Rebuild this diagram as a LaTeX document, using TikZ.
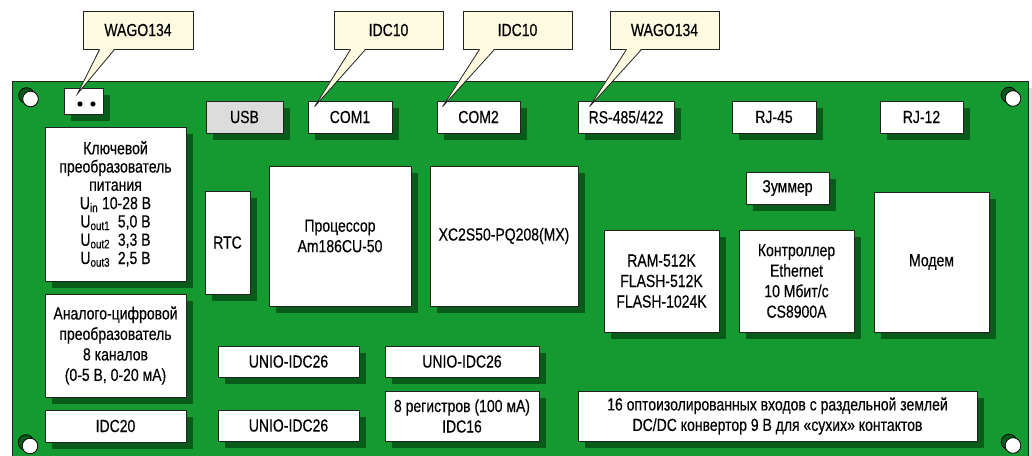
\documentclass[tikz,border=0pt]{standalone}
\usepackage{fontspec}
\setmainfont{Liberation Sans}[FakeStretch=0.80,FakeBold=0.35]
\usetikzlibrary{calc}
\definecolor{board}{RGB}{20,154,48}
\definecolor{pcbdark}{RGB}{8,92,26}
\definecolor{callfill}{RGB}{255,251,225}
\definecolor{usbgray}{RGB}{220,220,220}
\definecolor{edge}{RGB}{34,34,34}
\tikzset{
  pcbbox/.style={draw=edge, line width=0.8pt, fill=white, inner sep=0pt, align=center,
    font=\fontsize{17.5}{20.5}\selectfont},
  pcbshadow/.style={fill=pcbdark},
  callbox/.style={draw=edge, line width=0.8pt, fill=callfill, inner sep=0pt,
    font=\fontsize{17.5}{20.5}\selectfont},
  callline/.style={draw=edge, line width=0.8pt, line join=miter},
}
\newcommand\pcbnode[6][]{\path[pcbshadow] ({#2+6.5},{#3+6.5}) rectangle ({#4+6.5},{#5+6.5});
  \node[pcbbox,#1, minimum width={#4-#2}, minimum height={#5-#3}] (#6) at ({(#2+#4)/2},{(#3+#5)/2})}
\newcommand\callnode[5]{\node[callbox, minimum width={#4-#2}, minimum height={#5-#3}] (#1) at ({(#2+#4)/2},{(#3+#5)/2})}
\newcommand\calltip[2]{%
  \fill[callfill] ($(#1.south west)+(17,-1.2)$) -- (#2) -- ($(#1.south west)+(32,-1.2)$) -- cycle;
  \draw[callline] ($(#1.south west)+(17,0)$) -- (#2) -- ($(#1.south west)+(32,0)$);}
\begin{document}
\begin{tikzpicture}[x=1pt,y=-1pt]
\useasboundingbox (0,0) rectangle (1032,455);
\clip (0,0) rectangle (1032,455);
% board
\fill[black!15] (18,88) rectangle (1040,480);
\draw[fill=board, draw=edge, line width=0.8pt] (12,81.5) rectangle (1028,480);
% holes
\foreach \hx/\hy in {30.5/99, 1013/98.5, 30/446, 1013/445.5}{
  \path[fill=pcbdark, draw=black, line width=0.8pt] ({\hx-4},{\hy-3.5}) circle (7.8);
  \path[fill=white, draw=black, line width=0.8pt] (\hx,\hy) circle (7.8);
}
% components
\pcbnode{64}{88}{103}{114}{conn} {};
\fill (80,104) circle (2.6) (93,104) circle (2.6);
\pcbnode[fill=usbgray]{206}{101}{283}{133}{usb} {USB};
\pcbnode{308}{101}{392}{133}{com1} {COM1};
\pcbnode{437}{101}{520}{133}{com2} {COM2};
\pcbnode{578}{101}{674}{133}{rs} {RS-485/422};
\pcbnode{732}{101}{816}{133}{rj45} {RJ-45};
\pcbnode{880}{101}{963}{133}{rj12} {RJ-12};
\pcbnode[font=\fontsize{17.5}{18.3}\selectfont]{45}{127}{186}{281}{power} {Ключевой\\преобразователь\\питания\\U\textsubscript{in}\ 10-28 В\\U\textsubscript{out1}\ \ 5,0 В\\U\textsubscript{out2}\ \ 3,3 В\\U\textsubscript{out3}\ \ 2,5 В};
\pcbnode{205}{191}{250}{294}{rtc} {RTC};
\pcbnode{269}{166}{411}{306}{cpu} {Процессор\\Am186CU-50};
\pcbnode{430}{166}{578}{306}{fpga} {XC2S50-PQ208(MX)};
\pcbnode{746}{172}{829}{204}{zum} {Зуммер};
\pcbnode{604}{230}{719}{332}{ram} {RAM-512K\\FLASH-512K\\FLASH-1024K};
\pcbnode{739}{230}{854}{332}{eth} {Контроллер\\Ethernet\\10 Мбит/с\\CS8900A};
\pcbnode{874}{192}{989}{332}{modem} {Модем};
\pcbnode{45}{294}{186}{397}{adc} {Аналого-цифровой\\преобразователь\\8 каналов\\(0-5 В, 0-20 мА)};
\pcbnode{45}{410}{186}{442}{idc20} {IDC20};
\pcbnode{218}{346}{359}{377}{unioa} {UNIO-IDC26};
\pcbnode{385}{346}{539}{377}{uniob} {UNIO-IDC26};
\pcbnode{218}{410}{359}{441}{unioc} {UNIO-IDC26};
\pcbnode{385}{391}{539}{441}{reg} {8 регистров (100 мА)\\IDC16};
\pcbnode{578}{391}{977}{441}{opto} {16 оптоизолированных входов с раздельной землей\\DC/DC конвертор 9 В для «сухих» контактов};
% callouts
\callnode{ca}{83}{11}{193}{49} {WAGO134};
\callnode{cb}{334}{11}{443}{49} {IDC10};
\callnode{cc}{463}{11}{572}{49} {IDC10};
\callnode{cd}{610}{11}{719}{49} {WAGO134};
\coordinate (ta) at ($(conn.north west)+(14,6)$);
\coordinate (tb) at ($(com1.north west)+(7,6)$);
\coordinate (tc) at ($(com2.north west)+(6,6)$);
\coordinate (td) at ($(rs.north west)+(12,6)$);
\calltip{ca}{ta}
\calltip{cb}{tb}
\calltip{cc}{tc}
\calltip{cd}{td}
\end{tikzpicture}
\end{document}
